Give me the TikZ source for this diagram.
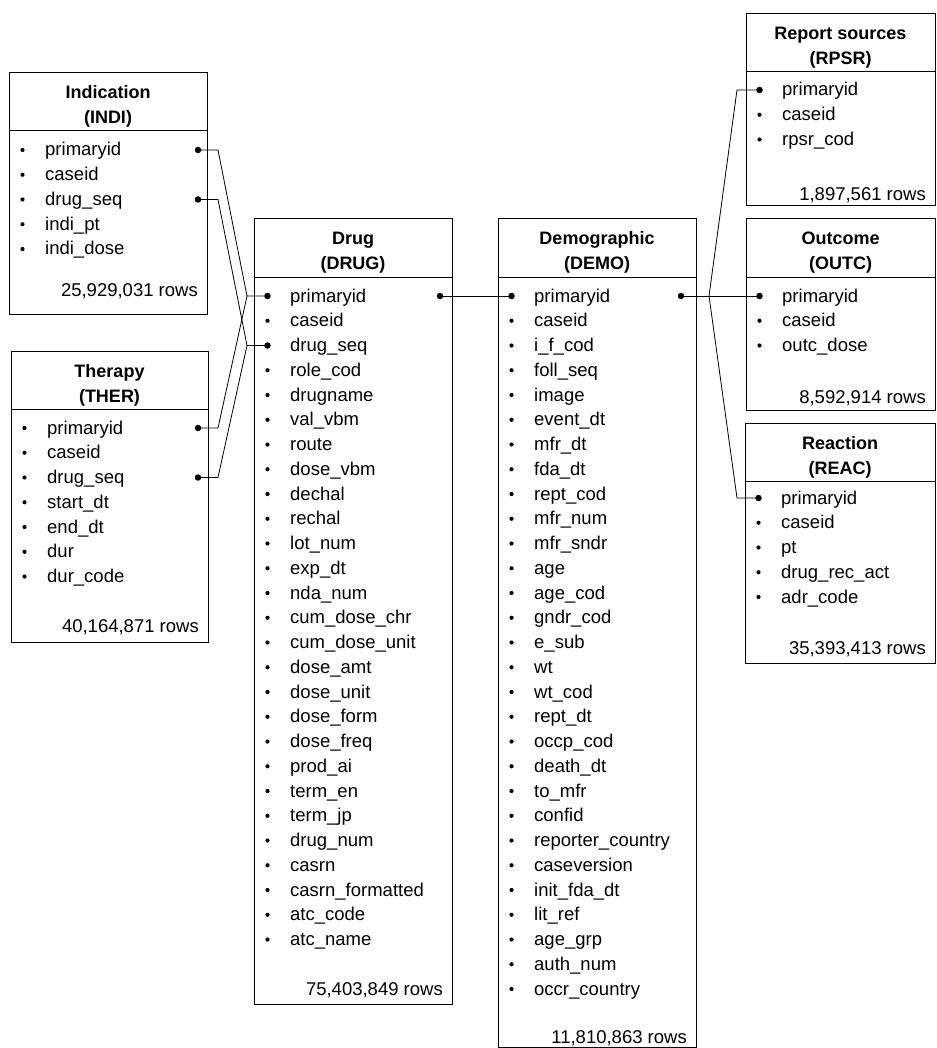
\documentclass[tikz,border=0pt]{standalone}
\usepackage{fontspec}
\setmainfont{Liberation Sans}
\tikzset{
  box/.style={draw=black, line width=1pt},
  itm/.style={anchor=base west, inner sep=0pt, font=\fontsize{18.5}{22}\selectfont},
  ttl/.style={anchor=base, inner sep=0pt, font=\fontsize{18}{22}\selectfont\bfseries},
  rws/.style={anchor=base east, inner sep=0pt, font=\fontsize{18.5}{22}\selectfont},
  link/.style={line width=0.8pt},
  keydot/.style={circle, fill=black, inner sep=0pt, minimum size=6.5pt},
  bul/.style={circle, fill=black, inner sep=0pt, minimum size=4.2pt},
}
% #1 name, #2 x0, #3 x1, #4 top, #5 separator, #6 bottom, #7 title, #8 code, #9 rows y
\newcommand{\erbox}[9]{%
  \draw[box] (#2,#4) rectangle (#3,#6);
  \draw[box] (#2,#5) -- (#3,#5);
  \node[ttl] (#1-title) at ({(#2+#3)/2},{#4+26}) {#7};
  \node[ttl] (#1-code) at ({(#2+#3)/2},{#4+51}) {#8};
}
% #1 name, #2 x0, #3 first item y, #4 list
\newcommand{\eritems}[4]{%
  \foreach \t [count=\k from 0] in {#4} {
    \node[bul] (#1-b\k) at ({#2+13.5},{#3+24.75*\k}) {};
    \node[itm] (#1-\k) at ({#2+36},{#3+24.75*\k+6}) {\t};
  }
}
\newcommand{\errows}[4]{%
  \node[rws] (#1-rowcount) at ({#2-9},{#3+6.5}) {#4};
}
\begin{document}
\begin{tikzpicture}[x=1pt, y=-1pt]
\useasboundingbox (0,0) rectangle (936,1048);

% Indication
\erbox{indi}{9}{207}{73}{131}{314}{Indication}{(INDI)}{290}
\eritems{indi}{9}{150}{primaryid,caseid,drug\_seq,indi\_pt,indi\_dose}
\errows{indi}{207}{290}{25,929,031 rows}

% Therapy
\erbox{ther}{11}{208}{351}{409}{642}{Therapy}{(THER)}{626}
\eritems{ther}{11}{428}{primaryid,caseid,drug\_seq,start\_dt,end\_dt,dur,dur\_code}
\errows{ther}{208}{626}{40,164,871 rows}

% Drug
\erbox{drug}{254}{452}{219}{278}{1004}{Drug}{(DRUG)}{989}
\eritems{drug}{254}{296}{primaryid,caseid,drug\_seq,role\_cod,drugname,val\_vbm,route,dose\_vbm,dechal,rechal,lot\_num,exp\_dt,nda\_num,cum\_dose\_chr,cum\_dose\_unit,dose\_amt,dose\_unit,dose\_form,dose\_freq,prod\_ai,term\_en,term\_jp,drug\_num,casrn,casrn\_formatted,atc\_code,atc\_name}
\errows{drug}{452}{989}{75,403,849 rows}

% Demographic
\erbox{demo}{498}{696}{219}{278}{1047}{Demographic}{(DEMO)}{1037}
\eritems{demo}{498}{296}{primaryid,caseid,i\_f\_cod,foll\_seq,image,event\_dt,mfr\_dt,fda\_dt,rept\_cod,mfr\_num,mfr\_sndr,age,age\_cod,gndr\_cod,e\_sub,wt,wt\_cod,rept\_dt,occp\_cod,death\_dt,to\_mfr,confid,reporter\_country,caseversion,init\_fda\_dt,lit\_ref,age\_grp,auth\_num,occr\_country}
\errows{demo}{696}{1037}{11,810,863 rows}

% Report sources
\erbox{rpsr}{746}{935}{14}{72}{206}{Report sources}{(RPSR)}{194}
\eritems{rpsr}{746}{90}{primaryid,caseid,rpsr\_cod}
\errows{rpsr}{935}{194}{1,897,561 rows}

% Outcome
\erbox{outc}{746}{935}{219}{278}{410}{Outcome}{(OUTC)}{397}
\eritems{outc}{746}{296}{primaryid,caseid,outc\_dose}
\errows{outc}{935}{397}{8,592,914 rows}

% Reaction
\erbox{reac}{745}{935}{423}{481}{663}{Reaction}{(REAC)}{648}
\eritems{reac}{745}{498}{primaryid,caseid,pt,drug\_rec\_act,adr\_code}
\errows{reac}{935}{648}{35,393,413 rows}

% key dots
\node[keydot] (indi-pk) at (198,150) {};
\node[keydot] (indi-dk) at (198,199.5) {};
\node[keydot] (ther-pk) at (198,428) {};
\node[keydot] (ther-dk) at (198,477.5) {};
\node[keydot] (drug-pkl) at (267.5,296) {};
\node[keydot] (drug-dkl) at (267.5,345.5) {};
\node[keydot] (drug-pkr) at (440,296) {};
\node[keydot] (demo-pkl) at (511.5,296) {};
\node[keydot] (demo-pkr) at (681,296) {};
\node[keydot] (rpsr-pk) at (759.5,90) {};
\node[keydot] (outc-pk) at (759.5,296) {};
\node[keydot] (reac-pk) at (758.5,498) {};

% junction coordinates
\coordinate (jdp) at (247,296);
\coordinate (jdd) at (247,345.5);
\coordinate (jdemo) at (709,296);

% connectors
\draw[link] (indi-pk.center) -- ++(20,0) -- (jdp) -- (drug-pkl.center);
\draw[link] (indi-dk.center) -- ++(20,0) -- (jdd) -- (drug-dkl.center);
\draw[link] (ther-pk.center) -- ++(20,0) -- (jdp);
\draw[link] (ther-dk.center) -- ++(20,0) -- (jdd);
\draw[link] (drug-pkr.center) -- (demo-pkl.center);
\draw[link] (demo-pkr.center) -- (outc-pk.center);
\draw[link] (jdemo) -- (737,90) -- (rpsr-pk.center);
\draw[link] (jdemo) -- (737,498) -- (reac-pk.center);
\end{tikzpicture}
\end{document}
